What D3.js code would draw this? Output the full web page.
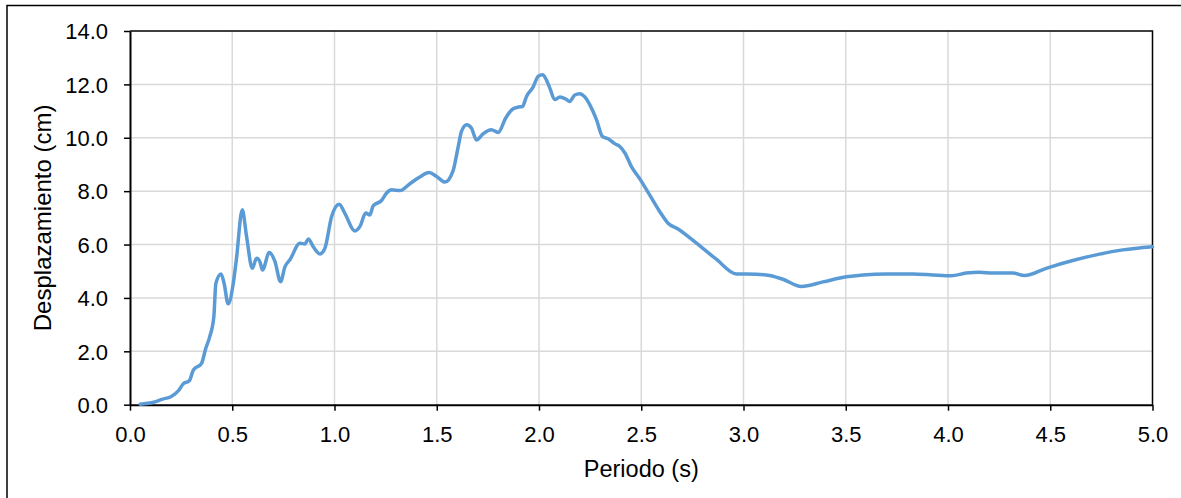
<!DOCTYPE html>
<html>
<head>
<meta charset="utf-8">
<script src="https://cdn.jsdelivr.net/npm/d3@7"></script>
<style>
  html, body { margin: 0; padding: 0; background: #fff; }
  svg { display: block; font-family: "Liberation Sans", Arial, sans-serif; }
</style>
</head>
<body>
<svg id="chart" width="1181" height="498"></svg>
<script>
// Displacement spectrum: period (s) vs. displacement (cm)
const periods = [
  0.05, 0.11, 0.16, 0.2, 0.24, 0.26, 0.29, 0.31, 0.35, 0.37,
  0.39, 0.41, 0.42, 0.445, 0.46, 0.48, 0.505, 0.52, 0.549, 0.57,
  0.598, 0.619, 0.635, 0.648, 0.681, 0.709, 0.736, 0.758, 0.782, 0.831,
  0.855, 0.872, 0.896, 0.929, 0.953, 0.986, 1.023, 1.05, 1.1, 1.124,
  1.153, 1.173, 1.189, 1.23, 1.255, 1.279, 1.32, 1.369, 1.417, 1.462,
  1.499, 1.54, 1.58, 1.605, 1.621, 1.646, 1.67, 1.694, 1.727, 1.767,
  1.8, 1.838, 1.87, 1.9, 1.919, 1.939, 1.971, 1.996, 2.017, 2.036,
  2.053, 2.077, 2.102, 2.131, 2.15, 2.175, 2.199, 2.224, 2.248, 2.281,
  2.31, 2.338, 2.37, 2.395, 2.42, 2.452, 2.493, 2.541, 2.59, 2.631,
  2.68, 2.77, 2.867, 2.965, 3.062, 3.128, 3.193, 3.283, 3.389, 3.503,
  3.584, 3.698, 3.829, 3.926, 4.016, 4.089, 4.154, 4.22, 4.317, 4.374,
  4.48, 4.61, 4.741, 4.855, 5.0
];
const displacements = [
  0.02, 0.08, 0.21, 0.3, 0.55, 0.78, 0.9, 1.3, 1.55, 2.1,
  2.55, 3.3, 4.55, 4.9, 4.55, 3.78, 4.55, 5.43, 7.3, 6.3,
  5.11, 5.49, 5.36, 5.05, 5.7, 5.36, 4.61, 5.17, 5.43, 6.05,
  6.02, 6.21, 5.92, 5.65, 5.86, 7.05, 7.51, 7.18, 6.51, 6.67,
  7.18, 7.11, 7.45, 7.65, 7.93, 8.05, 8.02, 8.28, 8.53, 8.7,
  8.55, 8.34, 8.77, 9.67, 10.24, 10.49, 10.36, 9.92, 10.15, 10.3,
  10.2, 10.75, 11.07, 11.15, 11.17, 11.55, 11.9, 12.3, 12.36, 12.17,
  11.86, 11.43, 11.53, 11.45, 11.36, 11.6, 11.65, 11.53, 11.24, 10.68,
  10.05, 9.96, 9.78, 9.67, 9.43, 8.92, 8.46, 7.86, 7.24, 6.8,
  6.58, 6.05, 5.45, 4.9, 4.89, 4.84, 4.7, 4.43, 4.6, 4.79,
  4.86, 4.9, 4.9, 4.86, 4.83, 4.93, 4.96, 4.93, 4.93, 4.84,
  5.11, 5.4, 5.64, 5.8, 5.92
];
const xTicks = [0, 0.5, 1, 1.5, 2, 2.5, 3, 3.5, 4, 4.5, 5];
const yTicks = [0, 2, 4, 6, 8, 10, 12, 14];
const xTitle = "Periodo (s)";
const yTitle = "Desplazamiento (cm)";

const svg = d3.select("#chart");
const W = 1181, H = 498;
const plot = { left: 130, right: 1152.5, top: 31, bottom: 404.7 };

// outer chart frame
svg.append("rect")
  .attr("x", 7).attr("y", 5.5)
  .attr("width", W).attr("height", H + 10)
  .attr("fill", "#fff").attr("stroke", "#000").attr("stroke-width", 1.5);

const x = d3.scaleLinear().domain([0, 5]).range([plot.left, plot.right]);
const y = d3.scaleLinear().domain([0, 14]).range([plot.bottom, plot.top]);

// gridlines
const grid = svg.append("g").attr("stroke", "#d9d9d9").attr("stroke-width", 1.5);
grid.selectAll("line.v").data(xTicks.slice(1, -1)).join("line")
  .attr("x1", d => x(d)).attr("x2", d => x(d))
  .attr("y1", plot.top).attr("y2", plot.bottom);
grid.selectAll("line.h").data(yTicks.slice(1, -1)).join("line")
  .attr("x1", plot.left).attr("x2", plot.right)
  .attr("y1", d => y(d)).attr("y2", d => y(d));

// plot area border (top and right)
svg.append("path")
  .attr("d", `M${plot.left},${plot.top}H${plot.right}V${plot.bottom}`)
  .attr("fill", "none").attr("stroke", "#000").attr("stroke-width", 1.5);

// axes
const fmt = d3.format(".1f");
const xAxis = svg.append("g")
  .attr("transform", `translate(0,${plot.bottom})`)
  .call(d3.axisBottom(x).tickValues(xTicks).tickFormat(fmt).tickSize(6).tickSizeOuter(0));
const yAxis = svg.append("g")
  .attr("transform", `translate(${plot.left},0)`)
  .call(d3.axisLeft(y).tickValues(yTicks).tickFormat(fmt).tickSize(6).tickSizeOuter(0).tickPadding(16));
[xAxis, yAxis].forEach(g => {
  g.select(".domain").attr("stroke", "#000").attr("stroke-width", 2);
  g.selectAll(".tick line").attr("stroke", "#000").attr("stroke-width", 1.5);
  g.selectAll(".tick text").attr("fill", "#000").style("font-size", "22px")
    .style("font-family", '"Liberation Sans", Arial, sans-serif');
});
xAxis.selectAll(".tick text").attr("y", 37).attr("dy", 0);
yAxis.selectAll(".tick text").attr("dy", "0.35em");

// curve
const pts = periods.map((p, i) => [p, displacements[i]]);
const line = d3.line()
  .x(d => x(d[0])).y(d => y(d[1]))
  .curve(d3.curveMonotoneX);
svg.append("path")
  .datum(pts)
  .attr("d", line)
  .attr("fill", "none")
  .attr("stroke", "#5b9bd5")
  .attr("stroke-width", 3.5)
  .attr("stroke-linejoin", "round")
  .attr("stroke-linecap", "round");

// axis titles
svg.append("text")
  .attr("x", (plot.left + plot.right) / 2).attr("y", 477)
  .attr("text-anchor", "middle")
  .style("font-size", "23.5px").attr("fill", "#000")
  .text(xTitle);
svg.append("text")
  .attr("transform", `translate(51,${(plot.top + plot.bottom) / 2}) rotate(-90)`)
  .attr("text-anchor", "middle")
  .style("font-size", "24px").attr("fill", "#000")
  .text(yTitle);
</script>
</body>
</html>
